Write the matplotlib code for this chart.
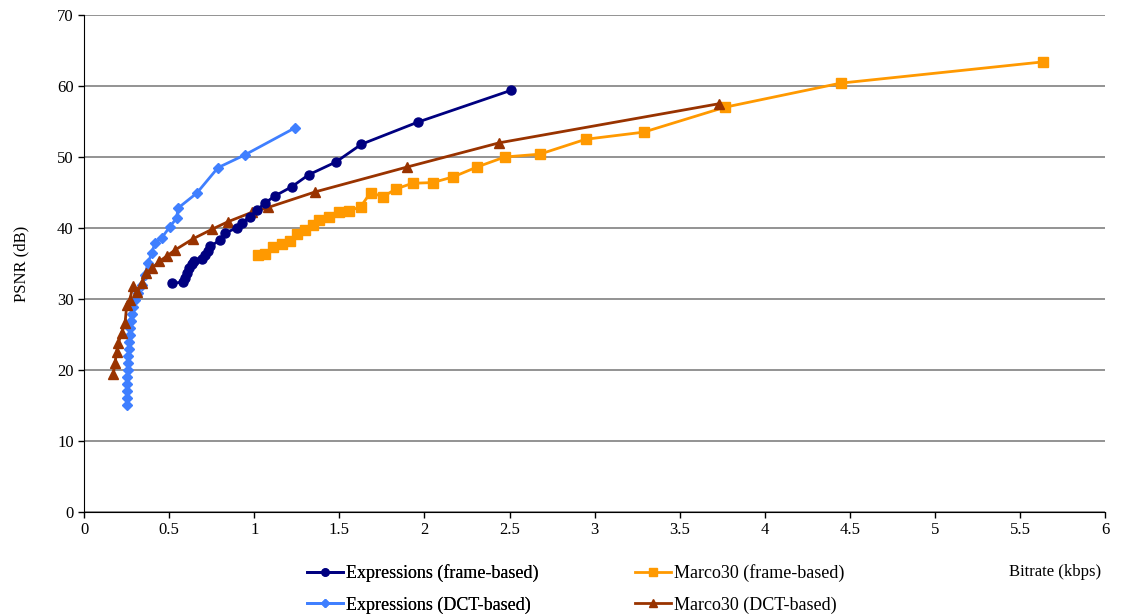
import numpy as np
import matplotlib
matplotlib.use("Agg")
import matplotlib.pyplot as plt

plt.rcParams['font.family'] = ['Liberation Serif', 'DejaVu Serif']

# Expressions (frame-based)
expr_frame_rate = [0.518, 0.580, 0.593, 0.605, 0.617, 0.632, 0.646, 0.691, 0.711, 0.728,
                   0.740, 0.799, 0.828, 0.897, 0.926, 0.975, 1.014, 1.063, 1.12, 1.22,
                   1.32, 1.48, 1.63, 1.96, 2.51]
expr_frame_psnr = [32.2, 32.4, 33.0, 33.7, 34.4, 35.0, 35.4, 35.7, 36.2, 36.8,
                   37.4, 38.3, 39.3, 40.0, 40.7, 41.6, 42.5, 43.5, 44.5, 45.8,
                   47.5, 49.3, 51.8, 54.9, 59.4]

# Expressions (DCT-based)
expr_dct_rate = [0.252, 0.252, 0.252, 0.252, 0.255, 0.258, 0.258, 0.261, 0.264, 0.264,
                 0.270, 0.273, 0.276, 0.282, 0.288, 0.299, 0.317, 0.339, 0.358, 0.376,
                 0.398, 0.417, 0.456, 0.505, 0.544, 0.552, 0.662, 0.787, 0.945, 1.239]
expr_dct_psnr = [15.1, 16.1, 17.0, 18.0, 19.0, 20.0, 21.0, 22.0, 23.0, 23.9,
                 24.9, 25.9, 26.9, 27.9, 28.9, 29.9, 30.9, 32.0, 33.4, 35.1,
                 36.5, 37.9, 38.6, 40.2, 41.4, 42.8, 44.9, 48.5, 50.3, 54.1]

# Marco30 (frame-based)
marco_frame_rate = [1.023, 1.063, 1.112, 1.161, 1.210, 1.249, 1.298, 1.343, 1.382, 1.440,
                    1.499, 1.558, 1.625, 1.684, 1.757, 1.832, 1.930, 2.048, 2.169, 2.310,
                    2.472, 2.678, 2.948, 3.288, 3.764, 4.445, 5.637]
marco_frame_psnr = [36.2, 36.3, 37.3, 37.7, 38.2, 39.2, 39.7, 40.4, 41.1, 41.5,
                    42.3, 42.4, 43.0, 45.0, 44.4, 45.5, 46.3, 46.4, 47.2, 48.6,
                    50.0, 50.4, 52.5, 53.5, 57.0, 60.4, 63.4]

# Marco30 (DCT-based)
marco_dct_rate = [0.172, 0.182, 0.192, 0.201, 0.221, 0.241, 0.251, 0.270, 0.286, 0.313,
                  0.339, 0.364, 0.398, 0.442, 0.489, 0.534, 0.642, 0.750, 0.847, 0.985,
                  1.082, 1.36, 1.90, 2.44, 3.73]
marco_dct_psnr = [19.5, 21.0, 22.6, 23.8, 25.2, 26.6, 29.2, 29.9, 31.8, 31.0,
                  32.2, 33.7, 34.3, 35.3, 36.1, 36.9, 38.5, 39.8, 40.9, 42.2,
                  42.9, 45.1, 48.6, 52.0, 57.5]

fig = plt.figure(figsize=(11.22, 6.14), dpi=100)
ax = fig.add_axes([0.0749, 0.166, 0.9101, 0.8096])

lw = 2.0
l1, = ax.plot(expr_frame_rate, expr_frame_psnr, color='#000080', marker='o', ms=6.5, lw=lw,
              label='Expressions (frame-based)', zorder=5)
l2, = ax.plot(expr_dct_rate, expr_dct_psnr, color='#3F7FFF', marker='D', ms=5.5, lw=lw,
              label='Expressions (DCT-based)', zorder=4)
l3, = ax.plot(marco_frame_rate, marco_frame_psnr, color='#FF9900', marker='s', ms=7, lw=lw,
              label='Marco30 (frame-based)', zorder=3)
l4, = ax.plot(marco_dct_rate, marco_dct_psnr, color='#993300', marker='^', ms=7.5, lw=lw,
              label='Marco30 (DCT-based)', zorder=4)

ax.set_xlim(0, 6)
ax.set_ylim(0, 70)
ax.set_xticks(np.arange(0, 6.01, 0.5))
ax.set_xticklabels(['0', '0.5', '1', '1.5', '2', '2.5', '3', '3.5', '4', '4.5', '5', '5.5', '6'])
ax.set_yticks(np.arange(0, 71, 10))
ax.yaxis.grid(True, color='#808080', lw=1.2)
ax.set_axisbelow(True)
for s in ['top', 'right']:
    ax.spines[s].set_visible(False)
ax.tick_params(labelsize=12, direction='out', length=4, width=1)

ax.set_ylabel('PSNR (dB)', fontsize=12, labelpad=20)
fig.text(0.981, 0.068, 'Bitrate (kbps)', fontsize=12, ha='right', va='center')

# legend in two columns placed separately
kw = dict(loc='upper left', frameon=False, fontsize=13, handlelength=2.0,
          handletextpad=0.15, labelspacing=0.78, borderpad=0, borderaxespad=0,
          markerscale=0.8)
leg1 = fig.legend([l1, l2], [l1.get_label(), l2.get_label()],
                  bbox_to_anchor=(0.2736, 0.081), **kw)
fig.add_artist(leg1)
fig.legend([l3, l4], [l3.get_label(), l4.get_label()],
           bbox_to_anchor=(0.566, 0.081), **kw)

fig.savefig('out.png', dpi=100)
